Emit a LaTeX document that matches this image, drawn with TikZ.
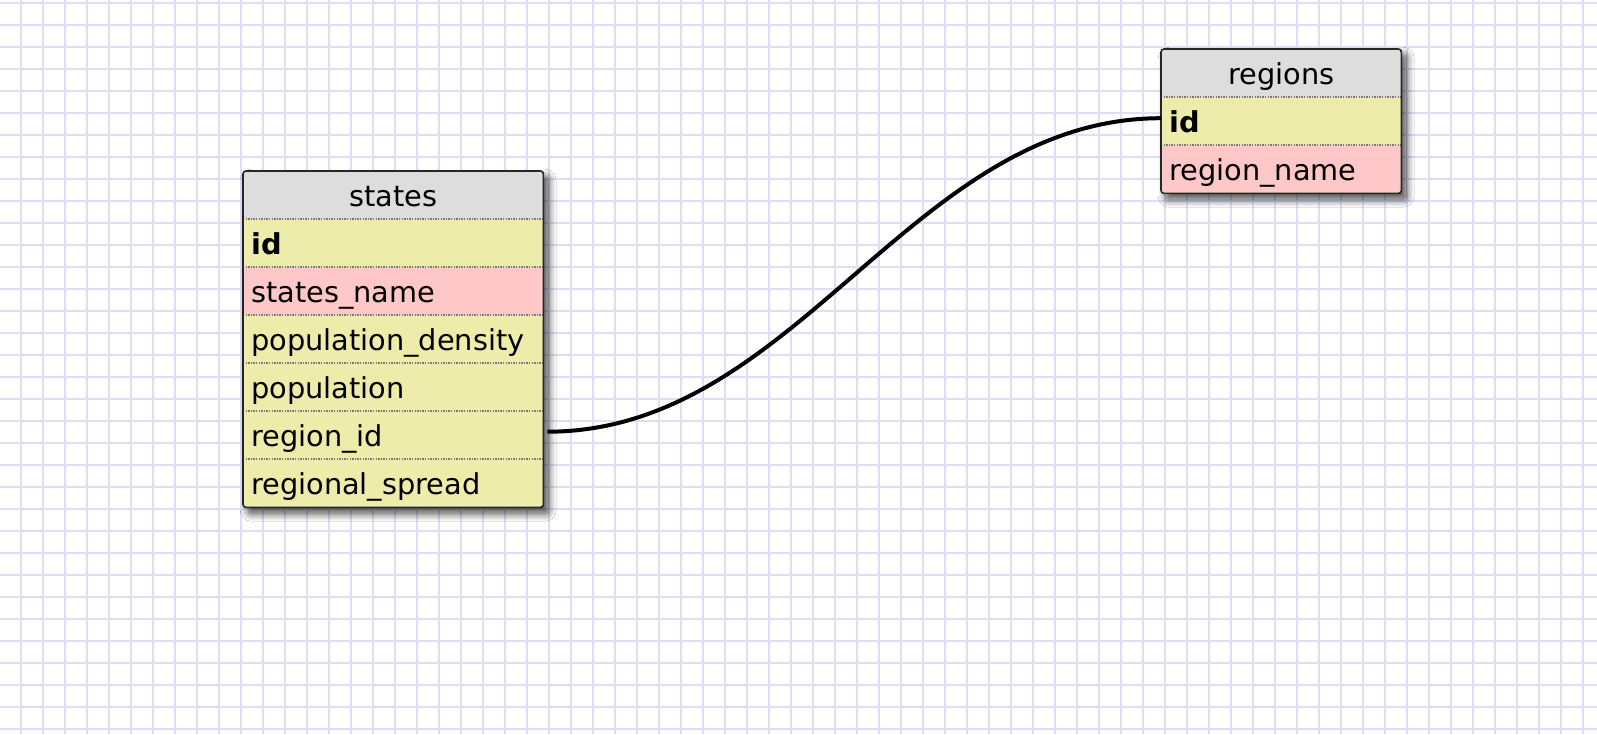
\documentclass[tikz,border=0pt]{standalone}
\usepackage{fontspec}
\setmainfont{DejaVu Sans}
\usetikzlibrary{shadows.blur}
\definecolor{gridc}{RGB}{222,222,246}
\definecolor{headc}{RGB}{221,221,221}
\definecolor{rowy}{RGB}{238,236,170}
\definecolor{rowp}{RGB}{255,200,200}
\definecolor{sepc}{RGB}{120,120,120}
\tikzset{
  gridline/.style={draw=gridc, line width=2pt},
  frame/.style={fill=white, rounded corners=3pt, inner sep=0pt, anchor=north west,
    blur shadow={shadow xshift=5pt, shadow yshift=-6pt, shadow blur radius=8pt, shadow blur steps=14, shadow opacity=75}},
  border/.style={draw=black!85, line width=1.6pt, rounded corners=3pt},
  cell/.style={anchor=north west, minimum height=48pt, inner ysep=0pt, inner xsep=8pt,
    text height=26pt, text depth=4pt, align=left, font=\fontsize{28.8}{30}\selectfont},
  hdr/.style={cell, fill=headc, align=center},
  ycell/.style={cell, fill=rowy},
  pcell/.style={cell, fill=rowp},
  sep/.style={draw=sepc, line width=1.1pt, dash pattern=on 1.3pt off 1.3pt},
  conn/.style={draw=black, line width=4pt},
}
\begin{document}
\begin{tikzpicture}[x=1pt,y=-1pt]
\useasboundingbox (0,0) rectangle (1597,734);
\fill[white] (0,0) rectangle (1597,734);
% grid
\foreach \k in {0,...,71} { \draw[gridline] ({20.7+22*\k},0) -- ({20.7+22*\k},734); }
\foreach \k in {0,...,33} { \draw[gridline] (0,{2.7+22*\k}) -- (1597,{2.7+22*\k}); }

% ---- states table ----
\node[frame, minimum width=300pt, minimum height=336pt] (states) at (243,171) {};
\begin{scope}
\clip[rounded corners=3pt] (states.north west) rectangle (states.south east);
\node[hdr, text width=284pt] (s-h) at (243,171) {states};
\node[ycell, text width=284pt] (s-id) at (243,219) {\textbf{id}};
\node[pcell, text width=284pt] (s-name) at (243,267) {states\_name};
\node[ycell, text width=284pt] (s-pd) at (243,315) {population\_density};
\node[ycell, text width=284pt] (s-pop) at (243,363) {population};
\node[ycell, text width=284pt] (s-rid) at (243,411) {region\_id};
\node[ycell, text width=284pt] (s-rs) at (243,459) {regional\_spread};
\end{scope}
\foreach \r in {s-id,s-name,s-pd,s-pop,s-rid,s-rs} { \draw[sep] (\r.north west) -- (\r.north east); }
\draw[border] (states.north west) rectangle (states.south east);

% ---- regions table ----
\node[frame, minimum width=240pt, minimum height=144pt] (regions) at (1161,49) {};
\begin{scope}
\clip[rounded corners=3pt] (regions.north west) rectangle (regions.south east);
\node[hdr, text width=224pt] (r-h) at (1161,49) {regions};
\node[ycell, text width=224pt] (r-id) at (1161,97) {\textbf{id}};
\node[pcell, text width=224pt] (r-name) at (1161,145) {region\_name};
\end{scope}
\foreach \r in {r-id,r-name} { \draw[sep] (\r.north west) -- (\r.north east); }
\draw[border] (regions.north west) rectangle (regions.south east);

% ---- connector ----
\draw[conn] ([xshift=4pt,yshift=3.5pt]s-rid.east) .. controls +(250,0) and +(-250,0) .. ([yshift=3pt]r-id.west);
\end{tikzpicture}
\end{document}
